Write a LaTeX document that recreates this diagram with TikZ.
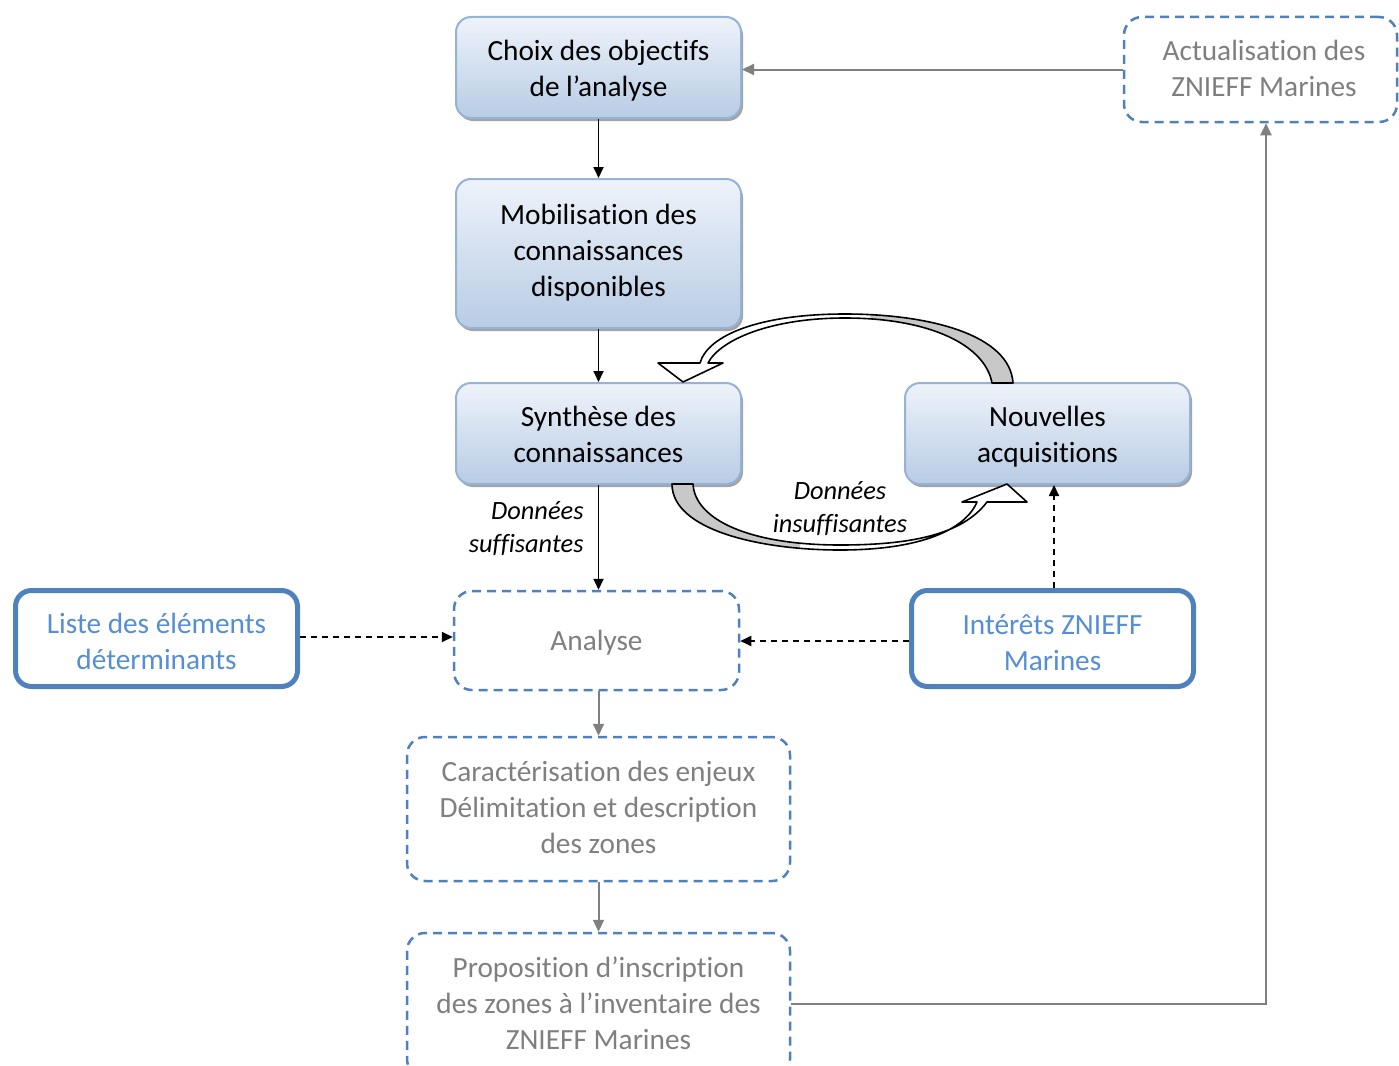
\documentclass[tikz,border=0pt]{standalone}
\usepackage{fontspec}
\setmainfont{Carlito}[Ligatures=NoCommon]
\usetikzlibrary{arrows.meta,shadows}
\definecolor{bord}{HTML}{95B3D7}
\definecolor{topc}{HTML}{EEF3FA}
\definecolor{botc}{HTML}{B8CCE4}
\definecolor{dblue}{HTML}{4F81BD}
\definecolor{tblue}{HTML}{558ED5}
\definecolor{tgray}{HTML}{7F7F7F}
\definecolor{agray}{HTML}{808080}
\definecolor{bandgray}{HTML}{C8C8C8}
\newcommand\boxtxt[2][0pt]{\raisebox{-#1}[\height][\depth]{\begin{tabular}{@{}c@{}}#2\end{tabular}}}
\begin{document}
\begin{tikzpicture}[x=1pt,y=-1pt,
  every node/.style={font=\fontsize{29.3}{36}\selectfont, align=center, inner sep=0pt},
  solidbox/.style={draw=bord, line width=2pt, rounded corners=15pt, top color=topc, bottom color=botc,
     drop shadow={shadow xshift=2pt, shadow yshift=-3pt, fill=black!45, opacity=0.8},
     minimum width=285pt},
  dashbox/.style={draw=dblue, line width=2.5pt, dash pattern=on 9pt off 6pt, rounded corners=18pt,
     text=tgray},
  thickbox/.style={draw=dblue, line width=5pt, rounded corners=16pt, text=tblue,
     minimum width=282pt, minimum height=96pt},
  blk/.style={line width=1.9pt, -{Triangle[length=11pt,width=10pt]}},
  dblk/.style={line width=1.8pt, dash pattern=on 6pt off 5pt, -{Triangle[length=11pt,width=10pt]}},
  gry/.style={draw=agray, line width=2pt, -{Triangle[length=12pt,width=11pt]}, color=agray},
  lbl/.style={font=\fontsize{26.4}{33}\selectfont\itshape}
]
\useasboundingbox (0,0) rectangle (1399,1065);

\node[solidbox, minimum height=101pt] (choix) at (598.5,67.5) {\boxtxt[3.5pt]{Choix des objectifs\\de l’analyse}};
\node[solidbox, minimum height=149pt] (mob) at (598.5,253.5) {\boxtxt[0pt]{Mobilisation des\\connaissances\\disponibles}};
\node[solidbox, minimum height=101pt] (syn) at (598.5,433.5) {\boxtxt[4pt]{Synthèse des\\connaissances}};
\node[solidbox, minimum height=101pt] (nouv) at (1047.5,433.5) {\boxtxt[4pt]{Nouvelles\\acquisitions}};
\node[dashbox, minimum width=273pt, minimum height=105pt] (actu) at (1260.5,69.5) {\hspace*{7pt}\boxtxt[1.8pt]{Actualisation des\\ZNIEFF Marines}};
\node[thickbox] (liste) at (156.5,638.5) {\boxtxt[5.6pt]{Liste des éléments\\déterminants}};
\node[thickbox] (inter) at (1052.5,638.5) {\boxtxt[6.3pt]{Intérêts ZNIEFF\\Marines}};
\node[dashbox, minimum width=285pt, minimum height=99pt] (analyse) at (596.5,640.5) {\boxtxt[2.8pt]{Analyse}};
\node[dashbox, minimum width=383pt, minimum height=144pt] (cara) at (598.5,809) {\boxtxt[1.3pt]{Caractérisation des enjeux\\Délimitation et description\\des zones}};
\node[dashbox, minimum width=383pt, minimum height=144pt] (prop) at (598.5,1005) {\boxtxt[1.3pt]{Proposition d’inscription\\des zones à l’inventaire des\\ZNIEFF Marines}};

% connectors
\draw[blk] (choix.south) -- (mob.north);
\draw[blk] (mob.south) -- (syn.north);
\draw[blk] (syn.south) -- (analyse.north -| syn.south) node[pos=0.42, left=14pt, lbl, align=right] {Données\\suffisantes};
\draw[dblk] ([yshift=1.5pt]liste.east) -- ([yshift=1.5pt]analyse.west |- liste.east);
\draw[dblk] ([yshift=-2.5pt]inter.west) -- ([yshift=-2.5pt]analyse.east |- inter.west);
\draw[dblk] ([xshift=1.5pt]inter.north) -- ([xshift=1.5pt]inter.north |- nouv.south);
\draw[gry] (cara.north |- analyse.south) -- (cara.north);
\draw[gry] (cara.south) -- (prop.north);
\draw[gry] (actu.west) -- (choix.east |- actu.west);
\coordinate (corner) at (1266,1004);
\draw[gry] (prop.east |- corner) -- (corner) -- (corner |- actu.south);

% top curved block arrow (Nouvelles -> Synthese)
\begin{scope}[line width=1.6pt, line join=round]
\def\toparrow{(1013,383) .. controls (1010,335) and (930,314) .. (845,314)
   .. controls (760,314) and (708,335) .. (700,363)
   -- (658,363) -- (683,382) -- (723,363) -- (708,363)
   .. controls (720,340) and (770,318) .. (845,318)
   .. controls (930,318) and (985,345) .. (992,383) -- cycle}
\fill[white] \toparrow;
\begin{scope}
\clip (870,300) rectangle (1020,390);
\fill[bandgray] \toparrow;
\end{scope}
\draw \toparrow;
% bottom curved block arrow (Synthese -> Nouvelles)
\def\botarrow{(672,484) .. controls (672,530) and (760,550) .. (840,550)
   .. controls (920,550) and (965,530) .. (977,502)
   -- (962,502) -- (1007,484) -- (1027,502) -- (987,502)
   .. controls (962,535) and (910,545) .. (840,545)
   .. controls (750,545) and (695,520) .. (693,484) -- cycle}
\fill[white] \botarrow;
\begin{scope}
\clip (660,480) rectangle (800,560);
\fill[bandgray] \botarrow;
\end{scope}
\draw \botarrow;
\end{scope}
\node[lbl] (insuf) at (840,509) {Données\\insuffisantes};
\end{tikzpicture}
\end{document}
